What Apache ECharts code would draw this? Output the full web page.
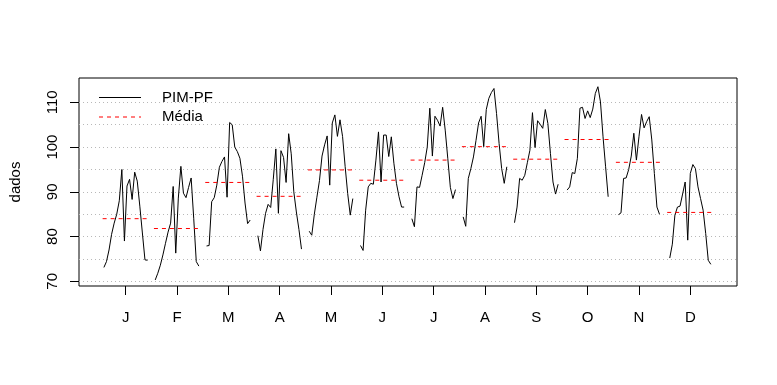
<!DOCTYPE html>
<html><head><meta charset="utf-8">
<script src="https://cdn.jsdelivr.net/npm/echarts@6/dist/echarts.min.js"></script>
<style>html,body{margin:0;padding:0;background:#fff}#c{width:777px;height:385px}</style>
</head><body><div id="c"></div>
<script>
const monthLabels = ['J','F','M','A','M','J','J','A','S','O','N','D'];
const jan = [73.1, 74.4, 77.0, 80.5, 83.0, 85.0, 88.0, 95.0, 79.0, 91.3, 92.8, 88.3, 94.4, 92.4, 86.8, 80.8, 74.8, 74.7];
const feb = [70.3, 71.8, 73.6, 75.9, 78.5, 81.0, 83.0, 91.2, 76.3, 88.6, 95.7, 89.7, 88.7, 91.0, 93.1, 84.1, 74.4, 73.4];
const mar = [77.9, 78.0, 87.8, 88.7, 91.5, 95.5, 96.8, 97.8, 88.8, 105.5, 105.0, 100.0, 99.0, 97.5, 93.5, 87.5, 82.9, 83.7];
const apr = [80.2, 76.8, 81.6, 85.2, 87.2, 86.5, 92.8, 99.6, 85.2, 99.2, 97.7, 92.1, 103.0, 98.5, 90.0, 85.5, 81.6, 77.2];
const may = [81.2, 80.3, 85.0, 88.8, 92.5, 98.0, 100.5, 102.5, 91.5, 105.4, 107.2, 102.4, 106.1, 102.4, 95.7, 89.6, 84.8, 88.5];
const jun = [78.0, 76.9, 85.9, 91.1, 91.9, 91.7, 97.1, 103.4, 92.2, 102.7, 102.7, 97.9, 102.3, 96.4, 91.9, 88.9, 86.6, 86.6];
const jul = [84.0, 82.2, 91.1, 91.0, 93.7, 96.5, 100.0, 108.7, 98.0, 106.9, 106.0, 104.7, 108.9, 103.8, 97.5, 91.0, 88.5, 90.5];
const aug = [84.4, 82.3, 93.0, 95.2, 97.8, 101.5, 105.4, 106.9, 100.1, 108.4, 110.9, 112.2, 113.1, 107.5, 100.8, 95.2, 91.9, 95.6];
const sep = [83.1, 86.6, 93.0, 92.6, 93.7, 96.5, 99.3, 107.7, 99.9, 105.9, 105.1, 104.2, 108.4, 105.3, 98.6, 92.2, 89.5, 91.7];
const oct = [90.4, 91.1, 94.3, 94.1, 97.5, 108.7, 108.9, 106.4, 108.1, 106.6, 108.5, 112.0, 113.5, 110.1, 102.3, 95.6, 88.9];
const nov = [84.9, 85.3, 93.0, 93.1, 95.0, 98.0, 103.1, 97.1, 102.3, 107.3, 104.3, 105.7, 106.8, 101.6, 94.1, 86.6, 85.0];
const dec = [75.2, 78.3, 84.8, 86.6, 86.8, 89.5, 92.2, 79.2, 94.1, 96.1, 95.2, 91.1, 88.5, 85.9, 80.7, 74.7, 73.8];
const monthly = [jan, feb, mar, apr, may, jun, jul, aug, sep, oct, nov, dec];
const means = [84.0, 81.8, 92.1, 89.0, 94.9, 92.6, 97.1, 100.1, 97.3, 101.7, 96.6, 85.4];
const legendNames = ['PIM-PF', 'Média'];
const yTicks = [70, 80, 90, 100, 110];
const gridValues = [70, 75, 80, 85, 90, 95, 100, 105, 110];
const xTicks = [1,2,3,4,5,6,7,8,9,10,11,12];

const FONT = '"Liberation Sans", Arial, Helvetica, sans-serif';
const series = [];
series.push({
  type: 'line', name: 'grid', data: [], silent: true, z: 1,
  markLine: {
    silent: true, z: 1, symbol: ['none','none'], animation: false,
    label: {show: false},
    lineStyle: {color: '#b8b8b8', type: [1, 3], width: 1},
    emphasis: {disabled: true},
    data: gridValues.map(v => ({yAxis: v}))
  }
});
monthly.forEach((vals, m) => {
  const n = vals.length;
  series.push({
    type: 'line', name: legendNames[0], symbol: 'none', z: 3, silent: true,
    lineStyle: {color: '#000', width: 1}, itemStyle: {color: '#000'},
    data: vals.map((v, j) => [m + 1 + (j - (n - 1) / 2) * 0.05, v])
  });
});
means.forEach((v, m) => {
  series.push({
    type: 'line', name: legendNames[1], symbol: 'none', z: 4, silent: true,
    lineStyle: {color: '#ff0000', width: 1, type: [4, 4]}, itemStyle: {color: '#ff0000'},
    data: [[m + 1 - 0.45, v], [m + 1 + 0.45, v]]
  });
});

const legendStyles = [
  {stroke: '#000', lineWidth: 1},
  {stroke: '#ff0000', lineWidth: 1, lineDash: [4, 4]}
];
const graphic = [];
legendNames.forEach((name, i) => {
  const y = 97.5 + i * 19.5;
  graphic.push({type: 'line', shape: {x1: 99, y1: y, x2: 141, y2: y}, style: legendStyles[i], silent: true, z: 10});
  graphic.push({type: 'text', x: 162, y: y, style: {text: name, fill: '#000', font: '15px ' + FONT, verticalAlign: 'middle', align: 'left'}, silent: true, z: 10});
});

const chart = echarts.init(document.getElementById('c'), null, {renderer: 'canvas'});
chart.setOption({
  animation: false,
  backgroundColor: '#fff',
  textStyle: {fontFamily: FONT},
  grid: {left: 79, right: 40, top: 78, bottom: 99, show: true, borderColor: '#000', borderWidth: 1, backgroundColor: 'transparent'},
  graphic: graphic,
  xAxis: {
    type: 'value', min: 0.09, max: 12.91,
    axisLine: {show: false},
    axisTick: {show: true, customValues: xTicks, length: 9, lineStyle: {color: '#000'}},
    axisLabel: {customValues: xTicks, formatter: v => monthLabels[Math.round(v) - 1], margin: 24, fontSize: 15, color: '#000', fontFamily: FONT},
    splitLine: {show: false}
  },
  yAxis: {
    type: 'value', min: 68.95, max: 115.45,
    name: 'dados', nameLocation: 'middle', nameRotate: 90, nameGap: 56,
    nameTextStyle: {fontSize: 15, color: '#000', fontFamily: FONT},
    axisLine: {show: false},
    axisTick: {show: true, customValues: yTicks, length: 9, lineStyle: {color: '#000'}},
    axisLabel: {customValues: yTicks, rotate: 90, margin: 19, fontSize: 15, color: '#000', fontFamily: FONT},
    splitLine: {show: false}
  },
  series: series
});
</script></body></html>
